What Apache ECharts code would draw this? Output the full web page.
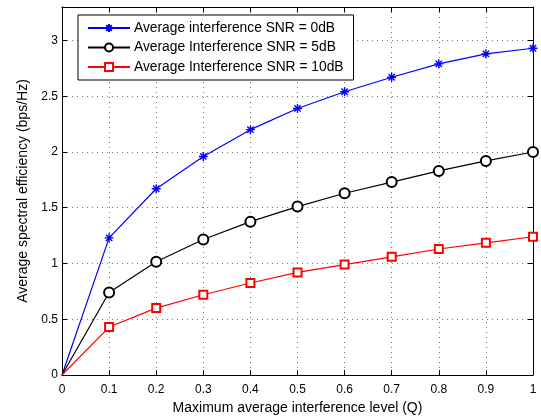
<!DOCTYPE html>
<html>
<head>
<meta charset="utf-8">
<script src="https://cdn.jsdelivr.net/npm/echarts@6/dist/echarts.min.js"></script>
<style>
  html, body { margin: 0; padding: 0; background: #fff; }
  #chart { width: 541px; height: 420px; }
</style>
</head>
<body>
<div id="chart"></div>
<script>
// x values (Q)
var qLevels = [0, 0.1, 0.2, 0.3, 0.4, 0.5, 0.6, 0.7, 0.8, 0.9, 1.0];
// average spectral efficiency for each SNR
var snr0  = [0, 1.23, 1.67, 1.96, 2.20, 2.39, 2.54, 2.67, 2.79, 2.88, 2.93];
var snr5  = [0, 0.74, 1.015, 1.215, 1.375, 1.51, 1.63, 1.73, 1.83, 1.92, 2.00];
var snr10 = [0, 0.43, 0.60, 0.72, 0.825, 0.92, 0.99, 1.06, 1.13, 1.185, 1.24];
var seriesNames = [
  'Average interference SNR = 0dB',
  'Average Interference SNR = 5dB',
  'Average Interference SNR = 10dB'
];

// no marker at the origin, as in the original plot
function pairs(ys) {
  return qLevels.map(function (q, i) {
    if (i === 0) return { value: [q, ys[i]], symbol: 'none' };
    return [q, ys[i]];
  });
}

var chart = echarts.init(document.getElementById('chart'));
var font = 'Liberation Sans, Arial, Helvetica, sans-serif';

// MATLAB style dotted grid + inner ticks
var gridLine = { show: true, lineStyle: { color: '#777', type: [1, 4], width: 1 } };
var axLine = { show: true, onZero: false, lineStyle: { color: '#000', width: 1 } };
var tick = { show: true, inside: true, length: 5, lineStyle: { color: '#000' } };

var asterisk = 'path://M0,-5L0,5M-5,0L5,0M-3.5,-3.5L3.5,3.5M-3.5,3.5L3.5,-3.5';

var option = {
  backgroundColor: '#fff',
  animation: false,
  textStyle: { fontFamily: font },
  grid: { left: 62, right: 8, top: 7, bottom: 44 },
  legend: {
    orient: 'vertical',
    left: 78,
    top: 15,
    itemWidth: 42,
    itemHeight: 10,
    itemGap: 5.5,
    padding: [6, 10, 6, 9],
    borderColor: '#000',
    borderWidth: 1,
    backgroundColor: '#fff',
    textStyle: { fontFamily: font, fontSize: 13.8, color: '#000', padding: [0, 0, 0, -1] },
    data: seriesNames
  },
  xAxis: [{
    type: 'value',
    min: 0, max: 1, interval: 0.1,
    name: 'Maximum average interference level (Q)',
    nameLocation: 'middle',
    nameGap: 26,
    nameTextStyle: { fontSize: 14, color: '#000', fontFamily: font },
    axisLine: axLine,
    axisTick: tick,
    axisLabel: { color: '#000', fontSize: 12, margin: 9 },
    splitLine: gridLine
  }, {
    type: 'value', position: 'top',
    min: 0, max: 1, interval: 0.1,
    axisLine: axLine, axisTick: tick,
    axisLabel: { show: false }, splitLine: { show: false }
  }],
  yAxis: [{
    type: 'value',
    min: 0, max: 3.3, interval: 0.5,
    name: 'Average spectral efficiency (bps/Hz)',
    nameLocation: 'middle',
    nameGap: 23,
    nameTextStyle: { fontSize: 14, color: '#000', fontFamily: font },
    axisLine: axLine,
    axisTick: tick,
    axisLabel: {
      color: '#000', fontSize: 12, margin: 4,
      formatter: function (v) { return Math.abs(v * 2 - Math.round(v * 2)) < 1e-6 ? String(v) : ''; }
    },
    splitLine: gridLine
  }, {
    type: 'value', position: 'right',
    min: 0, max: 3.3, interval: 0.5,
    axisLine: axLine, axisTick: tick,
    axisLabel: { show: false }, splitLine: { show: false }
  }],
  series: [{
    name: seriesNames[0],
    type: 'line',
    data: pairs(snr0),
    symbol: asterisk,
    symbolSize: 9,
    showAllSymbol: true,
    lineStyle: { color: '#0000ff', width: 1.2 },
    itemStyle: { color: '#0000ff', borderColor: '#0000ff', borderWidth: 1.4 }
  }, {
    name: seriesNames[1],
    type: 'line',
    data: pairs(snr5),
    symbol: 'emptyCircle',
    symbolSize: 10,
    showAllSymbol: true,
    lineStyle: { color: '#000', width: 1.2 },
    itemStyle: { color: '#000', borderColor: '#000', borderWidth: 1.2 }
  }, {
    name: seriesNames[2],
    type: 'line',
    data: pairs(snr10),
    symbol: 'emptyRect',
    symbolSize: 8,
    showAllSymbol: true,
    lineStyle: { color: '#ff0000', width: 1.2 },
    itemStyle: { color: '#ff0000', borderColor: '#ff0000', borderWidth: 1.2 }
  }]
};

chart.setOption(option);
</script>
</body>
</html>
